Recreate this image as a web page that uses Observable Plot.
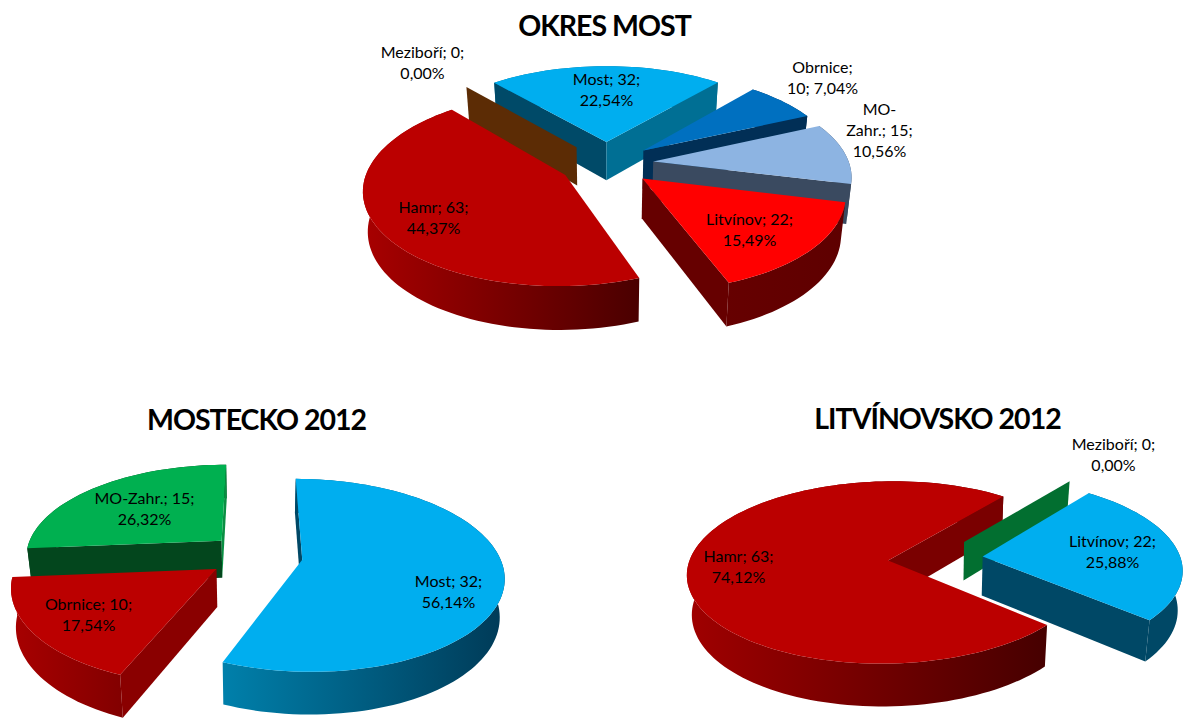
<!DOCTYPE html>
<html><head><meta charset="utf-8">
<style>html,body{margin:0;background:#fff}svg g[font-weight="700"]{letter-spacing:-1px}</style>
<script src="https://cdn.jsdelivr.net/npm/d3@7"></script>
<script src="https://cdn.jsdelivr.net/npm/@observablehq/plot@0.6"></script>
</head><body><div id="c"></div>
<script>
// ---- data
const okresNames  = ["Litvínov","Hamr","Meziboří","Most","Obrnice","MO-Zahr."];
const okresValues = [22,63,0,32,10,15];
const okresLabels = ["Litvínov; 22;\n15,49%","Hamr; 63;\n44,37%","Meziboří; 0;\n0,00%","Most; 32;\n22,54%","Obrnice;\n10; 7,04%","MO-\nZahr.; 15;\n10,56%"];
const mosteckoNames  = ["Most","Obrnice","MO-Zahr."];
const mosteckoValues = [32,10,15];
const mosteckoLabels = ["Most; 32;\n56,14%","Obrnice; 10;\n17,54%","MO-Zahr.; 15;\n26,32%"];
const litvinovskoNames  = ["Litvínov","Hamr","Meziboří"];
const litvinovskoValues = [22,63,0];
const litvinovskoLabels = ["Litvínov; 22;\n25,88%","Hamr; 63;\n74,12%","Meziboří; 0;\n0,00%"];
const titles = ["OKRES MOST","MOSTECKO 2012","LITVÍNOVSKO 2012"];

// ---- layout and styles
const charts = [
 {names:okresNames,values:okresValues,labels:okresLabels,title:titles[0],titlePos:[604,26],
  cx:606,cy:163,R:196,start:103.8,H:39,persp:.14,tilt:.47,order:["Most","Meziboří","Obrnice","MO-Zahr.","Hamr","Litvínov"],
  labelPos:[[749,228],[433,216],[422,61],[606,88],[822,76],[879,129]],
  style:{
   "Litvínov":{top:"#ff0000",outer:["#660000","#5e0000"],a:"#660000",b:"#660000"},
   "Hamr":{top:"#bb0000",outer:["#a80000","#4a0000"],a:"#7a0000",b:"#7a0000"},
   "Meziboří":{top:"#5c2c05",outer:["#5c2c05","#5c2c05"],a:"#5c2c05",b:"#5c2c05"},
   "Most":{top:"#00aeef",outer:["#006f94","#006f94"],a:"#004a68",b:"#006f94"},
   "Obrnice":{top:"#0070c0",outer:["#012f56","#012f56"],a:"#012f56",b:"#012f56"},
   "MO-Zahr.":{top:"#8db4e2",outer:["#3a4a60","#3a4a60"],a:"#3a4a60",b:"#3a4a60"}}},
 {names:mosteckoNames,values:mosteckoValues,labels:mosteckoLabels,title:titles[1],titlePos:[256,420],
  cx:255,cy:555,R:197,start:0,H:37.5,persp:.16,tilt:.47,order:["MO-Zahr.","Most","Obrnice"],
  labelPos:[[448,590],[88,613],[144,507]],
  style:{
   "Most":{top:"#00aeef",outer:["#0080ab","#003a57"],a:"#004866",b:"#004866"},
   "Obrnice":{top:"#bb0000",outer:["#a80000","#820000"],a:"#8a0000",b:"#8a0000"},
   "MO-Zahr.":{top:"#00b050",outer:["#03461d","#03461d"],a:"#03461d",b:"#0a8f43"}}},
 {names:litvinovskoNames,values:litvinovskoValues,labels:litvinovskoLabels,title:titles[2],titlePos:[937,419],
  cx:935,cy:558,R:198,start:38,H:39,persp:.13,tilt:.45,order:["Hamr","Meziboří","Litvínov"],
  labelPos:[[1112,550],[738,565],[1113,453]],
  style:{
   "Litvínov":{top:"#00aeef",outer:["#004866","#004866"],a:"#004866",b:"#004866"},
   "Hamr":{top:"#bb0000",outer:["#a00000","#460000"],a:"#7a0000",b:"#7a0000"},
   "Meziboří":{top:"#026f30",outer:["#026f30","#026f30"],a:"#026f30",b:"#026f30"}}}
];
const EXPLODE=.24, SHRINK=.98;

// ---- projection of a pie laid flat and seen at an angle
function project(c,X,Y,low){
  const s=1/(1+c.persp*Y), f=low?SHRINK:1;
  return [c.cx+X*c.R*s*f, c.cy-Y*c.R*c.tilt*s*f+(low?c.H*s:0)];
}
const marks=[], gradients=[];
let uid=0;
function poly(pts,fill){
  const data=pts.map(p=>({x:p[0],y:p[1]}));
  marks.push(Plot.line(data,{x:"x",y:"y",fill,stroke:"none",curve:"linear"}));
}
function grad(cols){
  if(cols[0]===cols[1]) return cols[0];
  const id="wall"+(uid++); gradients.push({id,cols}); return `url(#${id})`;
}
for(const c of charts){
  const arcs=d3.pie().sort(null).startAngle(c.start*Math.PI/180).endAngle(c.start*Math.PI/180+2*Math.PI)(c.values);
  const byName=new Map(arcs.map((a,i)=>[c.names[i],a]));
  for(const name of c.order){
    const a=byName.get(name), st=c.style[name];
    const mid=(a.startAngle+a.endAngle)/2;
    const ax=EXPLODE*Math.sin(mid), ay=EXPLODE*Math.cos(mid);
    const empty=a.endAngle<=a.startAngle;
    const n=Math.max(1,Math.ceil((a.endAngle-a.startAngle)/(Math.PI/90)));
    const angs=d3.range(n+1).map(i=>a.startAngle+(a.endAngle-a.startAngle)*i/n);
    const pt=t=>[ax+Math.sin(t),ay+Math.cos(t)];
    const topArc=angs.map(t=>project(c,...pt(t),false));
    const lowArc=angs.map(t=>project(c,...pt(t),true));
    const apexT=project(c,ax,ay,false), apexL=project(c,ax,ay,true);
    // a radial wall shows only if the slice lies above its top edge
    const shows=(edge,inner)=>{
      if(empty) return true;
      const ex2=edge[0]-apexT[0], ey2=edge[1]-apexT[1];
      const cross=(u,v)=>ex2*v-ey2*u;
      return cross(0,1)*cross(inner[0]-apexT[0],inner[1]-apexT[1])<0;
    };
    if(!empty) poly([...topArc,...lowArc.slice().reverse()],grad(st.outer));
    if(shows(topArc[0],topArc[Math.min(1,n)])) poly([apexT,topArc[0],lowArc[0],apexL],st.a);
    if(!empty&&shows(topArc[n],topArc[n-1])) poly([apexT,topArc[n],lowArc[n],apexL],st.b);
    if(!empty) poly([apexT,...topArc],st.top);
  }
}
const labelRows=charts.flatMap(c=>c.labels.map((t,i)=>({t,x:c.labelPos[i][0],y:c.labelPos[i][1]})));
const titleRows=charts.map(c=>({t:c.title,x:c.titlePos[0],y:c.titlePos[1]}));
marks.push(Plot.text(labelRows,{x:"x",y:"y",text:"t",fontFamily:"Lato",fontSize:16,lineHeight:1.3,fill:"#000",textAnchor:"middle"}));
marks.push(Plot.text(titleRows,{x:"x",y:"y",text:"t",fontFamily:"Lato",fontSize:28.5,fontWeight:700,fill:"#000",textAnchor:"middle"}));
const defs=()=>{
  const d=d3.create("svg:defs");
  for(const g of gradients){
    const l=d.append("linearGradient").attr("id",g.id).attr("x1",0).attr("x2",1).attr("y1",0).attr("y2",0);
    l.append("stop").attr("offset","0%").attr("stop-color",g.cols[0]);
    l.append("stop").attr("offset","100%").attr("stop-color",g.cols[1]);
  }
  return d.node();
};
document.getElementById("c").append(Plot.plot({
  width:1184,height:720,margin:0,
  x:{domain:[0,1184],axis:null},y:{domain:[720,0],axis:null},
  style:{background:"#fff"},
  marks:[defs,...marks]
}));
</script></body></html>
